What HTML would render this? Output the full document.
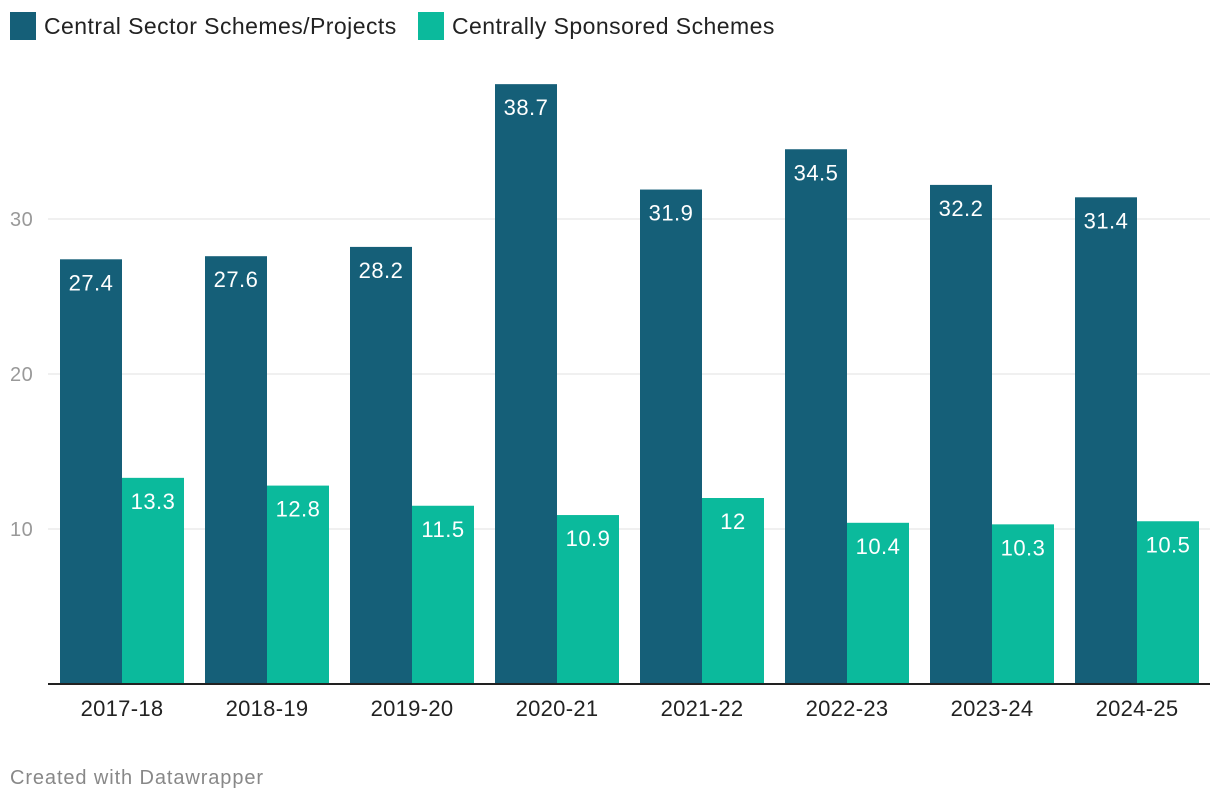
<!DOCTYPE html>
<html><head><meta charset="utf-8">
<style>
body{margin:0;background:#fff;font-family:"Liberation Sans",Arial,sans-serif;}
#wrap{position:relative;width:1220px;height:806px;overflow:hidden;}
.leg{position:absolute;top:12px;display:flex;align-items:center;font-size:23px;letter-spacing:0.45px;color:#222;}
.sw{width:26px;height:28px;margin-right:8px;}
#foot{position:absolute;left:10px;top:767px;font-size:20px;letter-spacing:0.9px;color:#888;}
</style></head><body>
<div id="wrap">
<div class="leg" style="left:10px"><div class="sw" style="background:#155f78"></div>Central Sector Schemes/Projects</div>
<div class="leg" style="left:418px"><div class="sw" style="background:#0bba9c"></div>Centrally Sponsored Schemes</div>
<svg id="svg" width="1220" height="806" style="position:absolute;left:0;top:0"></svg>
<div id="foot">Created with Datawrapper</div>
</div>
<script>
const categories=["2017-18","2018-19","2019-20","2020-21","2021-22","2022-23","2023-24","2024-25"];
const centralSector=[27.4,27.6,28.2,38.7,31.9,34.5,32.2,31.4];
const centrallySponsored=[13.3,12.8,11.5,10.9,12,10.4,10.3,10.5];
const yTicks=[10,20,30];
const svg=document.getElementById('svg');
const NS='http://www.w3.org/2000/svg';
const y=v=>684-v*15.5;
const xc=i=>122+i*145;
function mk(tag,attrs){const e=document.createElementNS(NS,tag);for(const k in attrs)e.setAttribute(k,attrs[k]);svg.appendChild(e);return e;}
yTicks.forEach(t=>{
 const g=mk('line',{x1:48,x2:1210,y1:y(t),y2:y(t),stroke:'#e0e0e0','stroke-width':1});
 
 
 const l=mk('text',{x:10,y:y(t)+7,'font-size':20,fill:'#999','letter-spacing':0.5});l.textContent=t;
 
 
});
function bar(i,v,off,color,name){
 const r=mk('rect',{x:xc(i)+off,y:y(v),width:62,height:684-y(v),fill:color});
 
 
 const t=mk('text',{x:xc(i)+off+31,y:y(v)+31,'font-size':22,fill:'#fff','text-anchor':'middle','letter-spacing':0.5});
 t.textContent=v;
 
 
}
categories.forEach((c,i)=>{
 bar(i,centralSector[i],-62,'#155f78','central-sector');
 bar(i,centrallySponsored[i],0,'#0bba9c','centrally-sponsored');
 const t=mk('text',{x:xc(i),y:716,'font-size':22,fill:'#222','text-anchor':'middle','letter-spacing':0.3});t.textContent=c;
 
 
});
const ax=mk('line',{x1:48,x2:1210,y1:684,y2:684,stroke:'#222','stroke-width':2});


</script>
</body></html>
